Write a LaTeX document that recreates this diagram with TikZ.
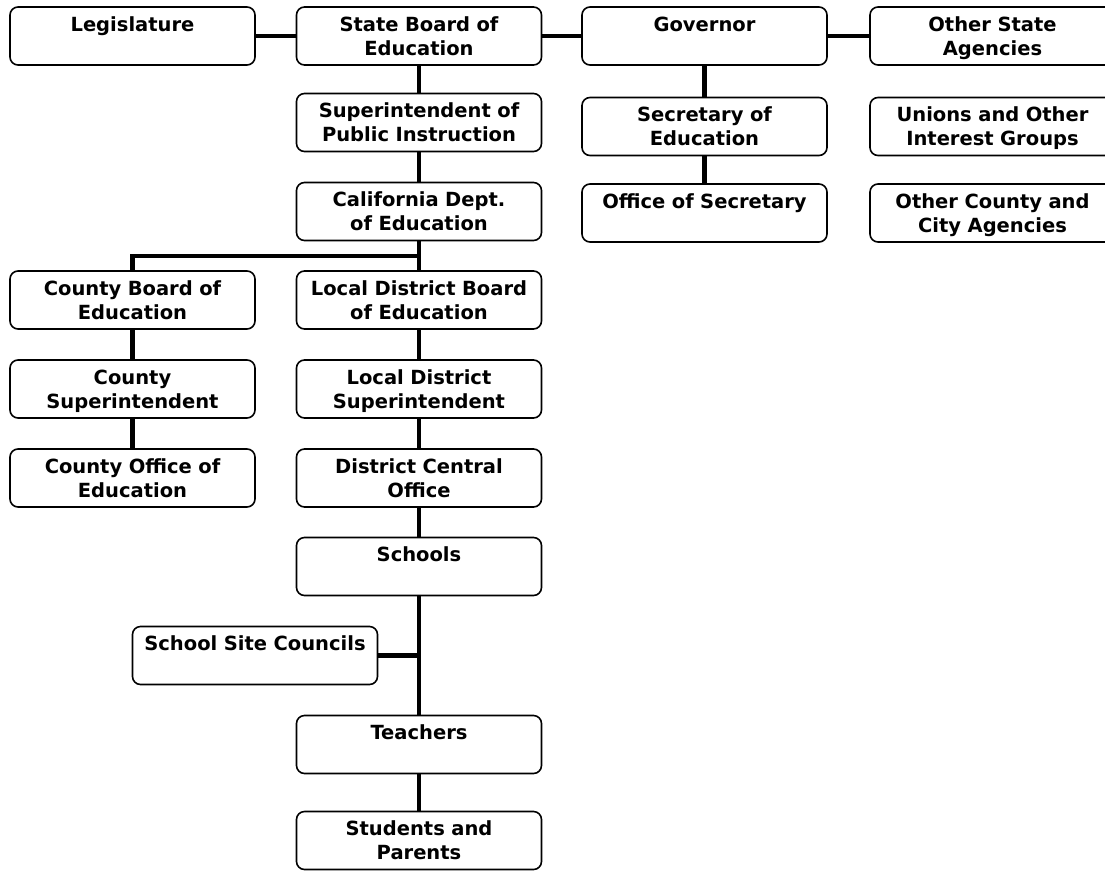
\documentclass[tikz,border=0pt]{standalone}
\usepackage{fontspec}
\setmainfont{DejaVu Sans}

\begin{document}
\begin{tikzpicture}[x=1pt,y=-1pt,box/.style={draw,line width=1.6pt,rounded corners=8pt,text width=237pt,inner xsep=4pt,inner ysep=0pt,align=center,text height=24pt,text depth=34pt,font=\fontsize{19.5}{24}\selectfont\bfseries},conn/.style={line width=4.5pt}]
\clip(0,0)rectangle(1105,871);
\node[box](leg)at(132.5,36){Legislature};
\node[box](sbe)at(419,36){State Board of\\Education};
\node[box](gov)at(704.5,36){Governor};
\node[box](osa)at(992.5,36){Other State\\Agencies};
\node[box](spi)at(419,122.5){Superintendent of\\Public Instruction};
\node[box](sec)at(704.5,126.5){Secretary of\\Education};
\node[box](uig)at(992.5,126.5){Unions and Other\\Interest Groups};
\node[box](cde)at(419,211.5){California Dept.\\of Education};
\node[box](ofs)at(704.5,213){Office of Secretary};
\node[box](occ)at(992.5,213){Other County and\\City Agencies};
\node[box](cbe)at(132.5,300){County Board of\\Education};
\node[box](lbe)at(419,300){Local District Board\\of Education};
\node[box](csu)at(132.5,389){County\\Superintendent};
\node[box](lsu)at(419,389){Local District\\Superintendent};
\node[box](coe)at(132.5,478){County Office of\\Education};
\node[box](dco)at(419,478){District Central\\Office};
\node[box](sch)at(419,566.5){Schools};
\node[box](ssc)at(255,655.5){School Site Councils};
\node[box](tch)at(419,744.5){Teachers};
\node[box](stu)at(419,840.5){Students and\\Parents};
\coordinate(fork)at(419,256);
\draw[conn](leg)--(sbe);
\draw[conn](sbe)--(gov);
\draw[conn](gov)--(osa);
\draw[conn](sbe)--(spi);
\draw[conn](spi)--(cde);
\draw[conn](gov)--(sec);
\draw[conn](sec)--(ofs);
\draw[conn](cde)--(fork)-|(cbe);
\draw[conn](fork)--(lbe);
\draw[conn](cbe)--(csu);
\draw[conn](csu)--(coe);
\draw[conn](lbe)--(lsu);
\draw[conn](lsu)--(dco);
\draw[conn](dco)--(sch);
\draw[conn](sch)--(tch);
\draw[conn](ssc)--(ssc-|sch);
\draw[conn](tch)--(stu);
\end{tikzpicture}
\end{document}
